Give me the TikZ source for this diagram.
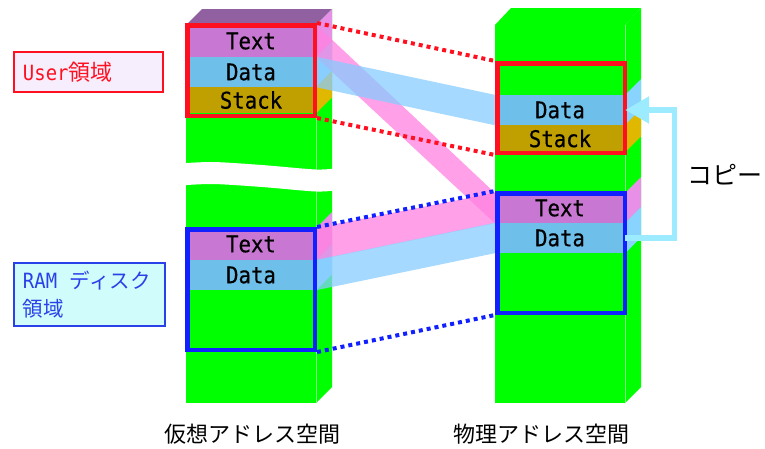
\documentclass[tikz,border=0pt]{standalone}
\usepackage{fontspec}
\setmainfont{Noto Sans CJK JP}
\newfontfamily\mono[FakeStretch=0.9]{DejaVu Sans Mono}
\newfontfamily\monoband[FakeStretch=0.9,FakeBold=0.6]{DejaVu Sans Mono}
\usetikzlibrary{arrows.meta}

\definecolor{mgreen}{HTML}{00FF00}
\definecolor{seam}{HTML}{80FF80}
\definecolor{txtc}{HTML}{C878D2}
\definecolor{txtside}{HTML}{E890E8}
\definecolor{txttop}{HTML}{9060A0}
\definecolor{datc}{HTML}{6EC0EA}
\definecolor{datside}{HTML}{88D4FF}
\definecolor{stkc}{HTML}{C0A000}
\definecolor{stkside}{HTML}{E0B800}
\definecolor{flowpink}{HTML}{FF80E0}
\definecolor{flowblue}{HTML}{88CCFF}
\definecolor{ured}{HTML}{FF1020}
\definecolor{rblue}{HTML}{1020FF}
\definecolor{copyc}{HTML}{9CEBFF}
\definecolor{userbg}{HTML}{F6EEFC}
\definecolor{rambg}{HTML}{D0FCFC}
\definecolor{ramtext}{HTML}{2A40E8}

\begin{document}
\begin{tikzpicture}[x=1pt,y=-1pt,
  band/.style={minimum width=130pt, inner sep=0pt, text=black,
    font=\monoband\fontsize{23}{23}\selectfont},
  region/.style={draw=#1, line width=4.5pt, inner sep=0pt, minimum width=127.5pt},
  link/.style={draw=#1, line width=4pt, dash pattern=on 4pt off 4pt},
  flow/.style={fill=#1, fill opacity=0.75},
  copyarrow/.style={draw=copyc, line width=5.5pt, -{Triangle[length=24pt,width=26pt]}},
  keybox/.style={draw=#1, line width=2.5pt, text=#1, align=left, inner xsep=9pt},
  caption/.style={inner sep=0pt, font=\fontsize{22}{22}\selectfont}
]
\useasboundingbox (0,0) rectangle (765,448);

% ---- virtual address space column ----
\fill[mgreen] (186,25) rectangle (316,403);
\fill[mgreen] (316,25) -- (332,9) -- (332,387) -- (316,403) -- cycle;
\fill[txttop] (186,25) -- (202,9) -- (332,9) -- (316,25) -- cycle;
\draw[seam, line width=0.8pt] (316,25) -- (316,403);

\node[band, fill=txtc, minimum height=32pt] (vtext) at (251,41) {Text};
\node[band, fill=datc, minimum height=30pt] (vdata) at (251,72) {Data};
\node[band, fill=stkc, minimum height=26pt] (vstack) at (251,100) {Stack};
\node[band, fill=txtc, minimum height=32pt] (vtextb) at (251,244) {Text};
\node[band, fill=datc, minimum height=30pt] (vdatab) at (251,275) {Data};

\foreach \b/\c in {vtext/txtside, vdata/datside, vstack/stkside, vtextb/txtside, vdatab/datside}
  \fill[\c] (\b.south east) -- (\b.north east) -- ++(16,-16)
    -- ([shift={(16,-16)}]\b.south east) -- cycle;

% break in the column
\fill[white] plot[smooth] coordinates {(180,163.5) (213,162) (262,165) (316,169.5) (338,168)}
  -- plot[smooth] coordinates {(338,190) (316,191.5) (262,187) (213,184) (180,185.5)} -- cycle;

% ---- physical address space column ----
\fill[mgreen] (495,25) rectangle (625,403);
\fill[mgreen] (625,25) -- (641,8) -- (641,387) -- (625,403) -- cycle;
\fill[mgreen] (495,25) -- (511,8) -- (641,8) -- (625,25) -- cycle;
\draw[seam, line width=0.8pt] (625,25) -- (625,403);

\node[band, fill=datc, minimum height=30pt] (pdata) at (560,110) {Data};
\node[band, fill=stkc, minimum height=27pt] (pstack) at (560,138.5) {Stack};
\node[band, fill=txtc, minimum height=30pt] (ptext) at (560,208) {Text};
\node[band, fill=datc, minimum height=30pt] (pdatab) at (560,238) {Data};

\foreach \b/\c in {pdata/datside, pstack/stkside, ptext/txtside, pdatab/datside}
  \fill[\c] (\b.south east) -- (\b.north east) -- ++(16,-16)
    -- ([shift={(16,-16)}]\b.south east) -- cycle;

% ---- mapping ribbons ----
\foreach \v/\p/\c in {vtext/ptext/flowpink, vdata/pdata/flowblue,
                      vtextb/ptext/flowpink, vdatab/pdatab/flowblue}
  \path[flow=\c] (\v.north east) -- (\p.north west) -- (\p.south west)
    -- (\v.south east) -- cycle;

% ---- regions ----
\node[region=ured, minimum height=90.5pt] (vuser) at (251,70.5) {};
\node[region=rblue, minimum height=120.5pt] (vram) at (251,289.5) {};
\node[region=ured, minimum height=89.5pt] (puser) at (561,108) {};
\node[region=rblue, minimum height=119.5pt] (pram) at (561,253) {};

\draw[link=ured] (vuser.north east) -- (puser.north west);
\draw[link=ured] (vuser.south east) -- (puser.south west);
\draw[link=rblue] (vram.north east) -- (pram.north west);
\draw[link=rblue] (vram.south east) -- (pram.south west);

% ---- copy ----
\draw[copyarrow] (pdatab.east) -- ++(49.5,0) |- (pdata.east);
\node[anchor=west, inner sep=0pt, font=\fontsize{25}{25}\selectfont] (copylabel) at (687,175) {コピー};

% ---- keys ----
\node[keybox=ured, fill=userbg, minimum width=149pt, minimum height=40pt, text width=131pt]
  (userkey) at (88.5,72) {{\mono\fontsize{21}{21}\selectfont User}{\fontsize{22}{22}\selectfont 領域}};
\node[keybox=ramtext, fill=rambg, minimum width=151pt, minimum height=63pt, text width=133pt,
  font=\fontsize{20.5}{28}\selectfont]
  (ramkey) at (89.5,294.5) {{\mono\fontsize{21}{28}\selectfont RAM}\hspace{6pt} ディスク\\領域};

% ---- captions ----
\node[caption] (vcap) at (252,434) {仮想アドレス空間};
\node[caption] (pcap) at (541,434) {物理アドレス空間};
\end{tikzpicture}
\end{document}
